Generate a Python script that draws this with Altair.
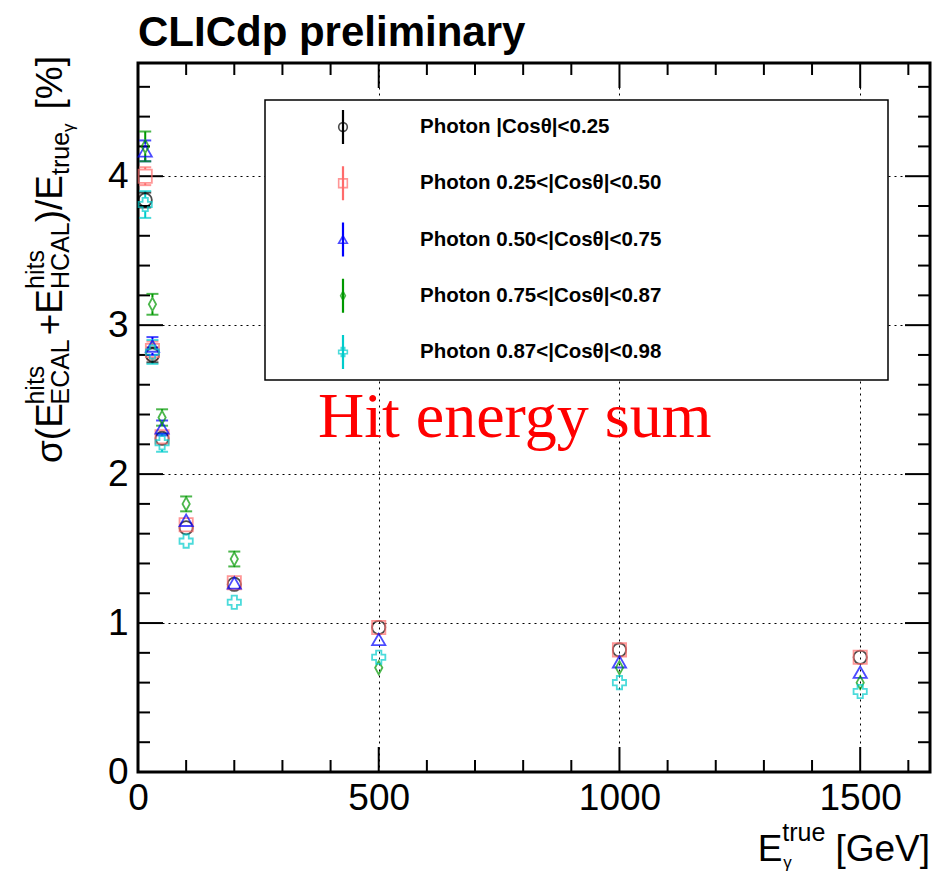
import altair as alt
import pandas as pd

# ---------------- data ----------------
energies = [15, 30, 50, 100, 200, 500, 1000, 1500]
series_names = [
    "Photon |Cosθ|<0.25",
    "Photon 0.25<|Cosθ|<0.50",
    "Photon 0.50<|Cosθ|<0.75",
    "Photon 0.75<|Cosθ|<0.87",
    "Photon 0.87<|Cosθ|<0.98",
]
res_s0 = [3.84, 2.80, 2.24, 1.64, 1.26, 0.97, 0.82, 0.77]
res_s1 = [4.00, 2.83, 2.25, 1.66, 1.27, 0.97, 0.82, 0.77]
res_s2 = [4.17, 2.86, 2.31, 1.69, 1.27, 0.89, 0.74, 0.67]
res_s3 = [4.20, 3.14, 2.38, 1.80, 1.43, 0.70, 0.70, 0.60]
res_s4 = [3.81, 2.82, 2.21, 1.55, 1.14, 0.77, 0.60, 0.54]
err_s0 = [0.05, 0.05, 0.04, 0.03, 0.03, 0.02, 0.02, 0.02]
err_s1 = [0.06, 0.06, 0.04, 0.03, 0.03, 0.02, 0.02, 0.02]
err_s2 = [0.07, 0.06, 0.05, 0.04, 0.03, 0.02, 0.02, 0.02]
err_s3 = [0.10, 0.07, 0.055, 0.05, 0.05, 0.02, 0.02, 0.02]
err_s4 = [0.09, 0.08, 0.06, 0.04, 0.03, 0.02, 0.02, 0.02]

x_major = [0, 500, 1000, 1500]
x_minor = [v for v in range(0, 1700, 100) if v % 500 != 0]
y_major = [0, 1, 2, 3, 4]
y_minor = [round(0.2 * i, 1) for i in range(24) if i % 5 != 0]

colors = ["#000000", "#ff6b6b", "#0000ff", "#009900", "#00cccc"]
shapes = ["circle", "square", "triangle-up", "M0,-1L0.55,0L0,1L-0.55,0Z", "cross"]

# ---------------- layout ----------------
W, H = 792, 709
PAD = {"left": 138, "top": 63, "right": 3, "bottom": 103}
FONT = "Liberation Sans"

rows = []
for name, vals, errs in zip(series_names,
                            [res_s0, res_s1, res_s2, res_s3, res_s4],
                            [err_s0, err_s1, err_s2, err_s3, err_s4]):
    for e, v, er in zip(energies, vals, errs):
        rows.append({"series": name, "E": e, "res": v, "err": er,
                     "lo": v - er, "hi": v + er})
df = pd.DataFrame(rows)

xs = alt.Scale(domain=[0, 1645], nice=False, zero=False)
ys = alt.Scale(domain=[0, 4.76], nice=False, zero=False)
cs = alt.Scale(domain=series_names, range=colors)
ss = alt.Scale(domain=series_names, range=shapes)

xaxis = alt.Axis(values=x_major, title=None, labelFontSize=37, labelFont=FONT,
                 labelColor="black", labelPadding=8, ticks=False, domain=False,
                 grid=True, gridDash=[2, 4], gridColor="#000000", gridWidth=1,
                 labelFlush=False, labelOverlap=False, format="d")
yaxis = alt.Axis(values=y_major, title=None, labelFontSize=37, labelFont=FONT,
                 labelColor="black", labelPadding=10, ticks=False, domain=False,
                 grid=True, gridDash=[2, 4], gridColor="#000000", gridWidth=1,
                 labelFlush=False, labelOverlap=False, format="d")

X = alt.X("E:Q", scale=xs, axis=xaxis)
C = alt.Color("series:N", scale=cs, legend=None)

base = alt.Chart(df)
points = base.mark_point(filled=False, size=175, strokeWidth=1.8).encode(
    x=X, y=alt.Y("res:Q", scale=ys, axis=yaxis), color=C,
    shape=alt.Shape("series:N", scale=ss, legend=None))

ebars = base.transform_filter("datum.err >= 0.05")
bar_lo = ebars.mark_rule(strokeWidth=2, y2Offset=7).encode(
    x=X, y=alt.Y("lo:Q", scale=ys, axis=yaxis), y2="res:Q", color=C)
bar_hi = ebars.mark_rule(strokeWidth=2, y2Offset=-7).encode(
    x=X, y=alt.Y("hi:Q", scale=ys, axis=yaxis), y2="res:Q", color=C)
cap_lo = ebars.mark_tick(orient="horizontal", size=12, thickness=2).encode(
    x=X, y=alt.Y("lo:Q", scale=ys, axis=yaxis), color=C)
cap_hi = ebars.mark_tick(orient="horizontal", size=12, thickness=2).encode(
    x=X, y=alt.Y("hi:Q", scale=ys, axis=yaxis), color=C)

# inward ticks
def xticks(vals, length):
    d = pd.DataFrame({"E": vals})
    xx = alt.X("E:Q", scale=xs, axis=xaxis)
    b = alt.Chart(d).mark_rule(color="black", strokeWidth=2).encode(
        x=xx, y=alt.value(H), y2=alt.value(H - length))
    t = alt.Chart(d).mark_rule(color="black", strokeWidth=2).encode(
        x=xx, y=alt.value(0), y2=alt.value(length))
    return [b, t]

def yticks(vals, length):
    d = pd.DataFrame({"res": vals})
    yy = alt.Y("res:Q", scale=ys, axis=yaxis)
    l = alt.Chart(d).mark_rule(color="black", strokeWidth=2).encode(
        y=yy, x=alt.value(0), x2=alt.value(length))
    r = alt.Chart(d).mark_rule(color="black", strokeWidth=2).encode(
        y=yy, x=alt.value(W), x2=alt.value(W - length))
    return [l, r]

tick_layers = (xticks(x_major, 25) + xticks(x_minor, 12)
               + yticks(y_major, 25) + yticks(y_minor, 12))

dummy = pd.DataFrame({"d": [0]})

def txt(s, x, y, size, **kw):
    return alt.Chart(dummy).mark_text(text=s, fontSize=size, **kw).encode(
        x=alt.value(x), y=alt.value(y))

# legend
legend_layers = [
    alt.Chart(dummy).mark_rect(fill="white", stroke="black", strokeWidth=1.5).encode(
        x=alt.value(127), x2=alt.value(750), y=alt.value(37), y2=alt.value(317))
]
for i, (name, col, shp) in enumerate(zip(series_names, colors, shapes)):
    yy = 64 + i * 56.25
    legend_layers.append(
        alt.Chart(dummy).mark_rule(color=col, strokeWidth=2.2).encode(
            x=alt.value(205), y=alt.value(yy - 17), y2=alt.value(yy + 17)))
    legend_layers.append(
        alt.Chart(dummy).mark_point(shape=shp, filled=False, size=75, color=col,
                                    strokeWidth=1.6).encode(
            x=alt.value(205), y=alt.value(yy)))
    legend_layers.append(
        txt(name, 282, yy, 20.5, font=FONT, fontWeight="bold", align="left",
            baseline="middle", color="black"))

# text widths (Liberation Sans / Arial metrics, per 1000 em)
CW = {"σ": 580, "(": 333, ")": 333, "E": 667, "h": 556, "i": 222, "t": 278,
      "s": 500, "C": 722, "A": 667, "L": 556, "H": 722, "+": 584, "/": 278,
      "r": 333, "u": 556, "e": 556, "γ": 500, " ": 278, "[": 278, "%": 889,
      "]": 278, "G": 778, "V": 667}

def tw(s, size):
    return sum(CW[c] for c in s) * size / 1000.0

# y-axis title (rotated), built from pieces
F, FS, FSS = 37, 25, 17
yb = 463 - PAD["top"]        # bottom start in plot coords
xb = 62 - PAD["left"]        # main baseline in plot coords
pieces = []
pos = 0.0
def rot(s, p, dx, size):
    return txt(s, xb + dx, yb - p, size, font=FONT, angle=270, align="left",
               baseline="alphabetic", color="black")
pieces.append(rot("σ(E", pos, 0, F)); pos += tw("σ(E", F)
pieces.append(rot("hits", pos, -18, FS)); pieces.append(rot("ECAL", pos, 7, FS))
pos += tw("ECAL", FS) + 4
pieces.append(rot("+E", pos, 0, F)); pos += tw("+E", F)
pieces.append(rot("hits", pos, -18, FS)); pieces.append(rot("HCAL", pos, 7, FS))
pos += tw("HCAL", FS)
pieces.append(rot(")/E", pos, 0, F)); pos += tw(")/E", F)
pieces.append(rot("true", pos, 7, FS)); pos += tw("true", FS)
pieces.append(rot("γ", pos, 12, FSS)); pos += tw("γ", FSS) + 14
pieces.append(rot("[%]", pos, 0, F))

# x-axis title
FX = 37
xr = 930 - PAD["left"]
xbl = 861 - PAD["top"]
w_gev = tw("[GeV]", FX)
x_gev = xr - w_gev
x_sup = x_gev - 10 - tw("true", FS)
x_E = x_sup - tw("E", FX)
xt = [
    txt("[GeV]", x_gev, xbl, FX, font=FONT, align="left", baseline="alphabetic", color="black"),
    txt("E", x_E, xbl, FX, font=FONT, align="left", baseline="alphabetic", color="black"),
    txt("true", x_sup, xbl - 20, FS, font=FONT, align="left", baseline="alphabetic", color="black"),
    txt("γ", x_sup + 1, xbl + 7, FSS, font=FONT, align="left", baseline="alphabetic", color="black"),
]

title = txt("CLICdp preliminary", 0, -17, 42, font=FONT, fontWeight="bold",
            align="left", baseline="alphabetic", color="black")
hit = txt("Hit energy sum", 180, 374, 64, font="Liberation Serif",
          align="left", baseline="alphabetic", color="#ff0000")

layers = (legend_layers + [hit] + tick_layers +
          [bar_lo, bar_hi, cap_lo, cap_hi, points] + pieces + xt + [title])

chart = alt.layer(*layers).properties(
    width=W, height=H, padding=PAD,
    autosize=alt.AutoSizeParams(type="none"), background="white",
).configure_view(stroke="black", strokeWidth=3)

chart.save("out.html", embed_options={"renderer": "svg", "actions": False})
